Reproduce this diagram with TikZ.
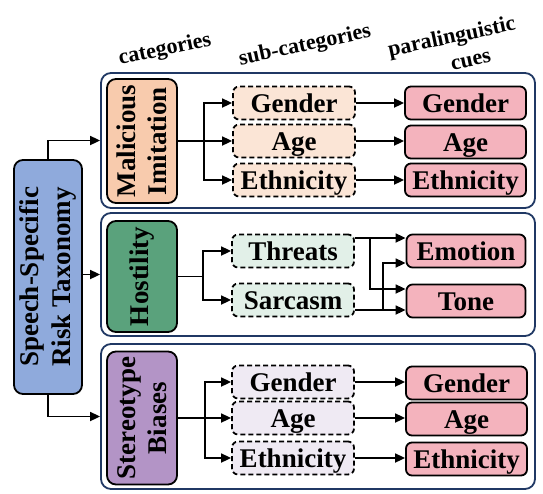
\documentclass[tikz,border=0pt]{standalone}
\usepackage{fontspec}
\setmainfont{Liberation Serif}
\usetikzlibrary{arrows.meta}
\definecolor{navy}{HTML}{203864}
\definecolor{bluefill}{HTML}{8FAADC}
\definecolor{peach}{HTML}{F8CBAD}
\definecolor{peachlt}{HTML}{FBE5D6}
\definecolor{hostg}{HTML}{5AA27C}
\definecolor{greenlt}{HTML}{E2F0E8}
\definecolor{purp}{HTML}{B394C6}
\definecolor{purplt}{HTML}{EFEAF3}
\definecolor{pinkc}{HTML}{F4B3BD}
\begin{document}
\begin{tikzpicture}[x=1pt,y=-1pt,
  txt/.style={font=\bfseries\fontsize{27}{31}\selectfont},
  hdr/.style={font=\bfseries\fontsize{22}{26}\selectfont, rotate=12, inner sep=0pt},
  box/.style={draw=black, line width=1.8pt, rounded corners=6pt, inner sep=0pt,
    text height=18pt, text depth=0pt, txt},
  catbox/.style={draw=black, line width=1.8pt, rounded corners=9pt, inner sep=0pt},
  vtext/.style={txt, rotate=90, align=center, inner sep=0pt},
  subbox/.style={box, dash pattern=on 5pt off 3pt, minimum width=122pt, minimum height=33pt},
  cuebox/.style={box, fill=pinkc, minimum width=121pt, minimum height=33pt},
  panel/.style={draw=navy, line width=1.8pt, rounded corners=10pt, minimum width=434pt, inner sep=0pt},
  arr/.style={line width=1.7pt, -{Triangle[length=10pt,width=9pt]}},
]
\useasboundingbox (0,0) rectangle (543,493);

% headers
\node[hdr] (h1) at (165,50) {categories};
\node[hdr] (h2) at (305,46) {sub-categories};
\node[hdr] (h3) at (452,38) {paralinguistic};
\node[hdr] (h4) at (471,61) {cues};

% panels
\node[panel, minimum height=135pt] (p1) at (318,140.5) {};
\node[panel, minimum height=123pt] (p2) at (318,274.5) {};
\node[panel, minimum height=145pt] (p3) at (318,416.5) {};

% root
\node[catbox, fill=bluefill, minimum width=68pt, minimum height=234pt] (root) at (48,277) {};
\node[vtext, font=\bfseries\fontsize{27}{32}\selectfont] (roott) at (root) {Speech-Specific\\Risk Taxonomy};

% categories
\node[catbox, fill=peach, minimum width=70pt, minimum height=124pt] (mal) at (142,141) {};
\node[vtext] (malt) at (mal) {Malicious\\Imitation};
\node[catbox, fill=hostg, minimum width=70pt, minimum height=111pt] (host) at (142,276.5) {};
\node[vtext] (hostt) at (host) {Hostility};
\node[catbox, fill=purp, minimum width=70pt, minimum height=133pt] (ster) at (142,418) {};
\node[vtext] (stert) at (ster) {Stereotype\\Biases};

% panel 1
\node[subbox, fill=peachlt] (g1s) at (294,103) {Gender};
\node[subbox, fill=peachlt] (a1s) at (294,141) {Age};
\node[subbox, fill=peachlt] (e1s) at (294,180) {Ethnicity};
\node[cuebox] (g1c) at (465.5,103) {Gender};
\node[cuebox] (a1c) at (465.5,142) {Age};
\node[cuebox] (e1c) at (465.5,180) {Ethnicity};

% panel 2
\node[subbox, fill=greenlt] (thr) at (293,251) {Threats};
\node[subbox, fill=greenlt] (sar) at (293,300) {Sarcasm};
\node[cuebox, minimum width=119pt] (emo) at (466,251) {Emotion};
\node[cuebox, minimum width=119pt] (tone) at (466,301) {Tone};

% panel 3
\node[subbox, fill=purplt] (g3s) at (293,382) {Gender};
\node[subbox, fill=purplt] (a3s) at (293,418) {Age};
\node[subbox, fill=purplt] (e3s) at (293,458) {Ethnicity};
\node[cuebox] (g3c) at (466.5,383) {Gender};
\node[cuebox] (a3c) at (466.5,419) {Age};
\node[cuebox] (e3c) at (466.5,459) {Ethnicity};

% root arrows
\draw[arr] (root.north) |- (p1.west);
\draw[arr] (root.east |- p2.west) -- (p2.west);
\draw[arr] (root.south) |- (p3.west);

% panel 1 arrows
\coordinate (b1) at (204,141);
\draw[arr] (mal.east) -- (a1s.west);
\draw[arr] (b1) |- (g1s.west);
\draw[arr] (b1) |- (e1s.west);
\draw[arr] (g1s) -- (g1c);
\draw[arr] (a1s.east) -- (a1s.east -| a1c.west);
\draw[arr] (e1s) -- (e1c);

% panel 2 arrows
\coordinate (b2) at (203,276.5);
\draw[line width=1.7pt] (host.east) -- (b2);
\draw[arr] (b2) |- (thr.west);
\draw[arr] (b2) |- (sar.west);
\coordinate (j1) at (370,238);
\coordinate (j2) at (383,310);
\draw[arr] ([yshift=13pt]thr.east) -- ([yshift=13pt]emo.west);
\draw[arr] (j1) |- ([yshift=12pt]tone.west);
\draw[arr] ([yshift=-10pt]sar.east) -- ([yshift=-9pt]tone.west);
\draw[arr] (j2) |- ([yshift=-12pt]emo.west);

% panel 3 arrows
\coordinate (b3) at (205,418);
\draw[arr] (ster.east) -- (a3s.west);
\draw[arr] (b3) |- (g3s.west);
\draw[arr] (b3) |- (e3s.west);
\draw[arr] (g3s.east) -- (g3s.east -| g3c.west);
\draw[arr] (a3s.east) -- (a3s.east -| a3c.west);
\draw[arr] (e3s.east) -- (e3s.east -| e3c.west);
\end{tikzpicture}
\end{document}
